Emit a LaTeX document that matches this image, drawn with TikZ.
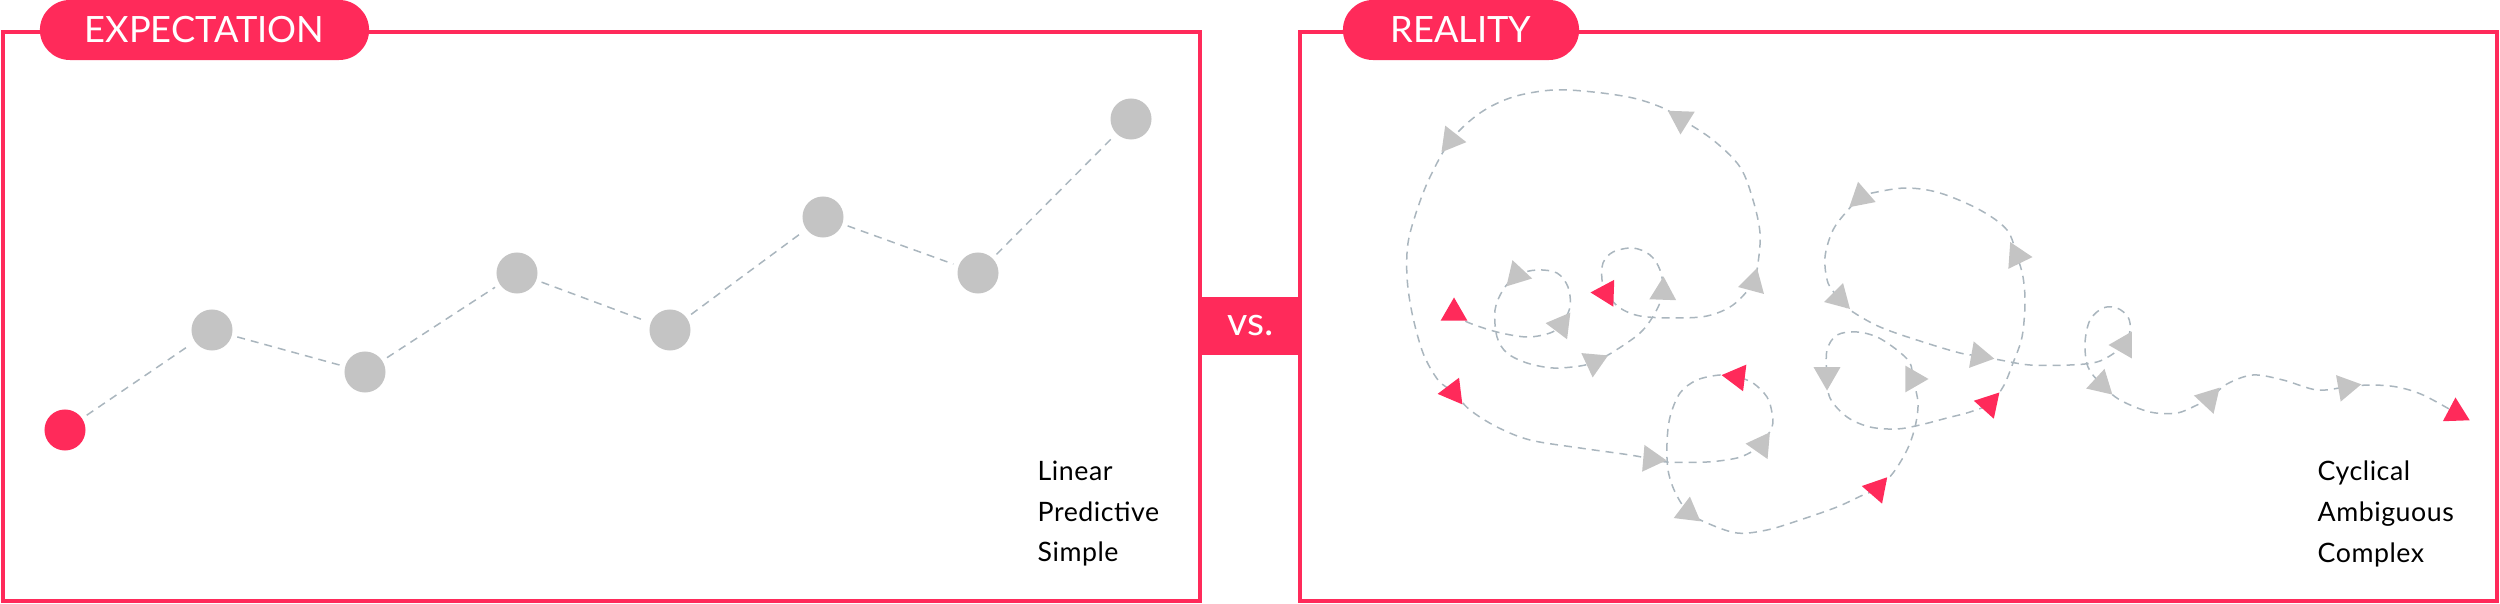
\documentclass[tikz,border=0pt]{standalone}
\usepackage{fontspec}
\setmainfont{Lato}
\newfontfamily\labelfont[LetterSpace=2]{Lato}
\usetikzlibrary{shapes.geometric}
\definecolor{brand}{RGB}{255,42,90}
\definecolor{dot}{RGB}{196,196,196}
\definecolor{dashc}{RGB}{170,182,190}
\begin{document}
\begin{tikzpicture}[x=0.01cm,y=-0.01cm,
  frame/.style={draw=brand, line width=0.035cm},
  pill/.style={fill=brand, rounded corners=0.3cm, text=white, inner sep=0pt,
    minimum height=0.6cm, font=\fontsize{10.3pt}{12pt}\selectfont},
  vsbox/.style={fill=brand, text=white, inner sep=0pt, minimum width=1.02cm,
    minimum height=0.58cm, font=\fontsize{11.2pt}{12pt}\selectfont},
  dotn/.style={circle, fill=dot, minimum size=0.41cm, inner sep=0pt},
  startdot/.style={circle, fill=brand, minimum size=0.41cm, inner sep=0pt},
  link/.style={draw=dashc, line width=0.015cm, dash pattern=on 0.08cm off 0.06cm,
    shorten <=0.05cm, shorten >=0.05cm},
  scribble/.style={draw=dashc, line width=0.015cm, dash pattern=on 0.08cm off 0.06cm},
  gtri/.style={regular polygon, regular polygon sides=3, fill=dot, minimum size=0.31cm, inner sep=0pt},
  rtri/.style={regular polygon, regular polygon sides=3, fill=brand, minimum size=0.31cm, inner sep=0pt},
  lbl/.style={anchor=base west, inner sep=0pt, font=\labelfont\fontsize{7.6pt}{11.7pt}\selectfont}
]
\useasboundingbox (0,0) rectangle (2500,604);
% frames
\draw[frame] (3,32) rectangle (1200,601);
\draw[frame] (1300,32) rectangle (2497,601);
% titles
\node[pill, minimum width=3.29cm] (exp) at (204.5,30) {EXPECTATION};
\node[pill, minimum width=2.36cm] (real) at (1461,30) {REALITY};
\node[vsbox] (vs) at (1251,326) {vs.};

% left panel
\node[startdot] (d0) at (65,430) {};
\node[dotn] (d1) at (212,330) {};
\node[dotn] (d2) at (365,372) {};
\node[dotn] (d3) at (517,273) {};
\node[dotn] (d4) at (670,330) {};
\node[dotn] (d5) at (823,217) {};
\node[dotn] (d6) at (978,273) {};
\node[dotn] (d7) at (1131,119) {};
\draw[link] (d0) -- (d1);
\draw[link] (d1) -- (d2);
\draw[link] (d2) -- (d3);
\draw[link] (d3) -- (d4);
\draw[link] (d4) -- (d5);
\draw[link] (d5) -- (d6);
\draw[link] (d6) -- (d7);

\node[lbl] (l1) at (1037,481) {Linear};
\node[lbl] (l2) at (1037,522) {Predictive};
\node[lbl] (l3) at (1037,562) {Simple};

\node[lbl] (r1) at (2317,481) {Cyclical};
\node[lbl] (r2) at (2317,522) {Ambiguous};
\node[lbl] (r3) at (2317,563) {Complex};

% right panel scribble
\draw[scribble] plot[smooth, tension=0.55] coordinates {
(1454,313) (1467,322) (1497,332) (1527,337) (1550,333) (1561,325) (1570,307) (1568,287)
(1557,273) (1537,270) (1517,275) (1503,290) (1495,310) (1497,337) (1507,353) (1527,363)
(1553,368) (1580,366) (1594,362) (1613,352) (1640,333) (1655,313) (1663,292) (1660,270)
(1650,255) (1633,248) (1613,252) (1603,263) (1602,280) (1606,293) (1620,308) (1640,316)
(1673,318) (1707,316) (1733,305) (1753,283) (1758,263) (1760,233) (1753,200) (1740,167)
(1713,140) (1681,119) (1663,108) (1633,98) (1593,92) (1553,90) (1513,97) (1480,113)
(1451,140) (1430,177) (1417,210) (1408,243) (1407,277) (1412,313) (1423,353) (1438,380)
(1453,392) (1470,410) (1497,427) (1530,440) (1580,448) (1630,455) (1651,459) (1667,462)
(1707,462) (1737,458) (1753,451) (1761,445) (1772,427) (1772,413) (1767,397) (1753,383)
(1737,377) (1720,375) (1697,380) (1680,393) (1670,417) (1667,443) (1668,470) (1675,492)
(1688,512) (1707,523) (1737,533) (1767,530) (1800,520) (1837,507) (1863,495) (1877,489)
(1893,473) (1907,450) (1915,427) (1918,403) (1913,379) (1910,363) (1897,350) (1877,337)
(1857,332) (1837,335) (1827,350) (1827,375) (1830,398) (1847,417) (1870,427) (1897,429)
(1920,425) (1947,418) (1970,412) (1989,404) (2003,387) (2013,363) (2022,337) (2025,303)
(2023,277) (2017,256) (2007,230) (1980,210) (1940,193) (1907,188) (1877,192) (1861,197)
(1848,210) (1833,230) (1825,257) (1828,283) (1839,298) (1850,310) (1880,327) (1923,342)
(1960,353) (1979,356) (2000,360) (2030,365) (2070,365) (2100,361) (2124,345) (2130,330)
(2128,317) (2117,308) (2103,308) (2090,320) (2085,343) (2088,367) (2101,384) (2120,400)
(2150,412) (2177,413) (2197,405) (2209,399) (2227,384) (2253,375) (2283,380) (2317,390)
(2346,387) (2370,385) (2397,387) (2423,395) (2456,413)};

% markers
\node[gtri, rotate=-98]  (t1)  at (1451,140) {};
\node[gtri, rotate=178]  (t2)  at (1681,119) {};
\node[gtri, rotate=-15]  (t3)  at (1753,283) {};
\node[rtri, rotate=88]   (t4)  at (1606,293) {};
\node[rtri, rotate=0]    (t5)  at (1454,313) {};
\node[gtri, rotate=-157] (t6)  at (1561,325) {};
\node[gtri, rotate=17]   (t7)  at (1517,275) {};
\node[gtri, rotate=175]  (t8)  at (1594,362) {};
\node[gtri, rotate=-2]   (t9)  at (1663,292) {};
\node[rtri, rotate=97]   (t10) at (1453,392) {};
\node[rtri, rotate=83]   (t11) at (1737,377) {};
\node[gtri, rotate=85]   (t12) at (1761,445) {};
\node[gtri, rotate=-95]  (t13) at (1651,459) {};
\node[gtri, rotate=-7]   (t16) at (1688,512) {};
\node[rtri, rotate=-161] (t17) at (1877,489) {};
\node[gtri, rotate=-90]  (t18) at (1913,379) {};
\node[gtri, rotate=180]  (t19) at (1827,375) {};
\node[gtri, rotate=11]   (t21) at (1861,197) {};
\node[gtri, rotate=-94]  (t22) at (2017,256) {};
\node[gtri, rotate=105]  (t23) at (1839,298) {};
\node[gtri, rotate=-100] (t24) at (1979,356) {};
\node[rtri, rotate=-162] (t27) at (1989,404) {};
\node[gtri, rotate=90]   (t29) at (2124,345) {};
\node[gtri, rotate=-13]  (t30) at (2101,384) {};
\node[gtri, rotate=-163] (t31) at (2209,399) {};
\node[gtri, rotate=-80]  (t32) at (2346,387) {};
\node[rtri, rotate=2]    (t33) at (2456,413) {};
\end{tikzpicture}
\end{document}
